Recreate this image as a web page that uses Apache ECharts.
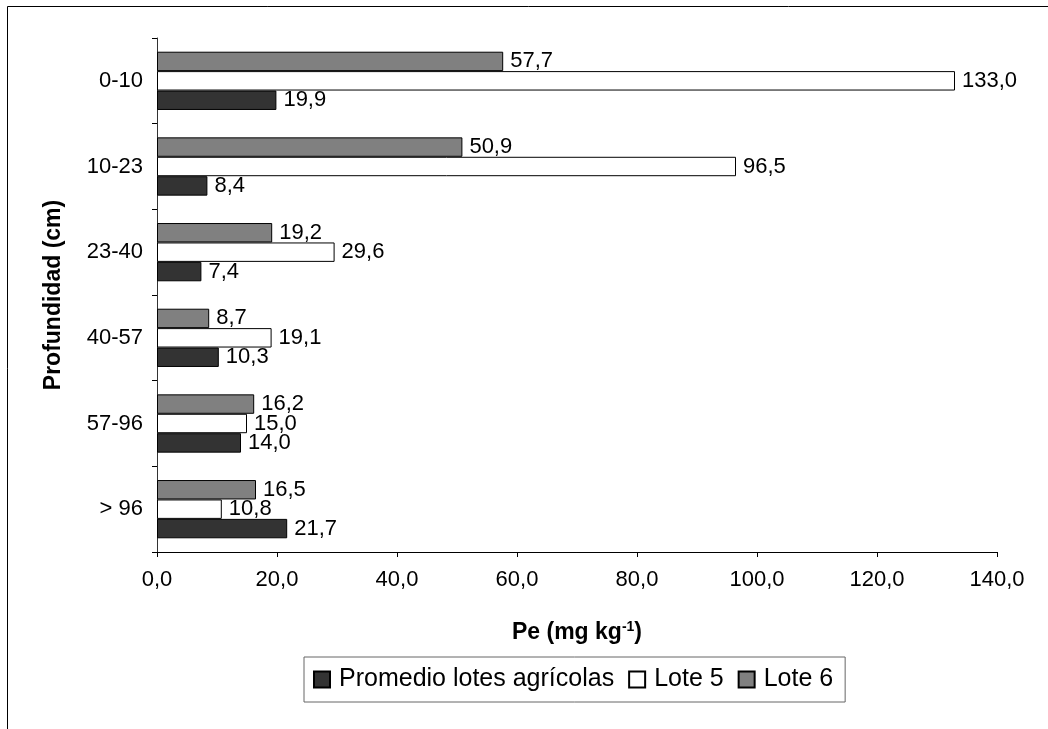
<!DOCTYPE html>
<html>
<head>
<meta charset="utf-8">
<style>
  html, body { margin: 0; padding: 0; background: #ffffff; }
  #chart { width: 1048px; height: 729px; }
</style>
<script src="https://cdn.jsdelivr.net/npm/echarts@6/dist/echarts.min.js"></script>
</head>
<body>
<div id="chart"></div>
<script>
// Depth intervals (cm), listed top to bottom
const depths = ['0-10', '10-23', '23-40', '40-57', '57-96', '> 96'];

// Extractable P (mg kg-1) per depth
const lote6 = [57.7, 50.9, 19.2, 8.7, 16.2, 16.5];
const lote5 = [133.0, 96.5, 29.6, 19.1, 15.0, 10.8];
const promedio = [19.9, 8.4, 7.4, 10.3, 14.0, 21.7];

// Series names as shown in the legend
const seriesNames = ['Promedio lotes agrícolas', 'Lote 5', 'Lote 6'];

// Value axis ticks
const xTicks = [0, 20, 40, 60, 80, 100, 120, 140];

const FONT = '"Liberation Sans", Arial, sans-serif';
const fmt = v => Number(v).toFixed(1).replace('.', ',');

function barSeries(name, data, color) {
  return {
    name: name,
    type: 'bar',
    data: data,
    barGap: '0%',
    barCategoryGap: '32%',
    itemStyle: { color: color, borderColor: '#000000', borderWidth: 1 },
    label: {
      show: true,
      position: 'right',
      distance: 7,
      color: '#000000',
      fontFamily: FONT,
      fontSize: 22,
      formatter: p => fmt(p.value)
    }
  };
}

const chart = echarts.init(document.getElementById('chart'), null, { renderer: 'canvas' });

chart.setOption({
  backgroundColor: '#ffffff',
  animation: false,
  graphic: [{
    type: 'rect',
    shape: { x: 7.5, y: 6.5, width: 1200, height: 900 },
    style: { fill: 'none', stroke: '#000000', lineWidth: 1 },
    silent: true,
    z: -10
  }],
  grid: { left: 157, right: 51, top: 38, bottom: 177, containLabel: false },
  xAxis: {
    type: 'value',
    min: xTicks[0],
    max: xTicks[xTicks.length - 1],
    interval: xTicks[1] - xTicks[0],
    splitLine: { show: false },
    axisLine: { show: true, lineStyle: { color: '#000000', width: 1 } },
    axisTick: { show: true, length: 5, lineStyle: { color: '#000000' } },
    axisLabel: {
      margin: 17,
      color: '#000000',
      fontFamily: FONT,
      fontSize: 22,
      formatter: v => fmt(v)
    },
    name: 'Pe (mg kg{sup|-1})',
    nameLocation: 'middle',
    nameGap: 68,
    nameTextStyle: {
      color: '#000000',
      fontFamily: FONT,
      fontSize: 23,
      fontWeight: 'bold',
      rich: {
        sup: { fontFamily: FONT, fontSize: 14, fontWeight: 'bold', color: '#000000', padding: [0, 0, 12, 0] }
      }
    }
  },
  yAxis: {
    type: 'category',
    data: depths,
    inverse: true,
    axisLine: { show: true, lineStyle: { color: '#333333', width: 1 } },
    axisTick: { show: true, length: 5, alignWithLabel: false, lineStyle: { color: '#000000' } },
    axisLabel: {
      margin: 14,
      color: '#000000',
      fontFamily: FONT,
      fontSize: 22
    },
    name: 'Profundidad (cm)',
    nameLocation: 'middle',
    nameGap: 92,
    nameRotate: 90,
    nameTextStyle: {
      color: '#000000',
      fontFamily: FONT,
      fontSize: 23,
      fontWeight: 'bold'
    }
  },
  legend: {
    data: seriesNames,
    left: 304,
    top: 657,
    orient: 'horizontal',
    icon: 'rect',
    itemWidth: 16,
    itemHeight: 16,
    itemGap: 14,
    padding: [10, 12, 10, 9],
    borderColor: '#666666',
    borderWidth: 1,
    selectedMode: false,
    textStyle: {
      color: '#000000',
      fontFamily: FONT,
      fontSize: 25,
      padding: [0, 0, 0, 4]
    }
  },
  series: [
    barSeries(seriesNames[2], lote6, '#808080'),
    barSeries(seriesNames[1], lote5, '#ffffff'),
    barSeries(seriesNames[0], promedio, '#333333')
  ]
});
</script>
</body>
</html>
